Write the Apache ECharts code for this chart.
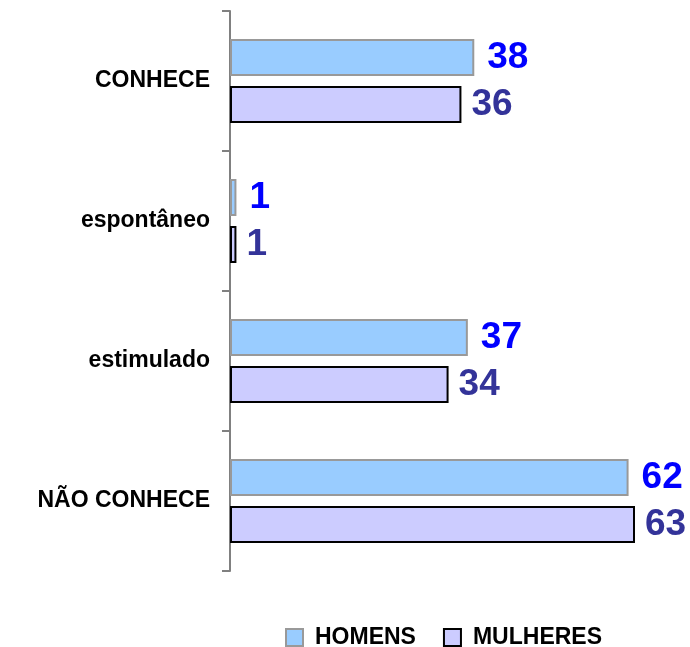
<!DOCTYPE html>
<html lang="pt">
<head>
    <meta charset="UTF-8">
    <title>Conhece</title>
    <script type="text/javascript" src="https://cdn.jsdelivr.net/npm/echarts@6/dist/echarts.min.js"></script>
    <style>
        html, body { margin: 0; padding: 0; background: #fff; }
    </style>
</head>
<body>
<div id="main" style="width:690px;height:647px"></div>
<script type="text/javascript">
    // dados
    var categorias = ['CONHECE', 'espontâneo', 'estimulado', 'NÃO CONHECE'];
    var homens = [38, 1, 37, 62];
    var mulheres = [36, 1, 34, 63];

    var fonte = '"Liberation Sans", Arial, sans-serif';
    var myChart = echarts.init(document.getElementById('main'));

    myChart.setOption({
        animation: false,
        legend: {
            left: 285,
            top: 626,
            padding: 0,
            icon: 'rect',
            itemWidth: 17,
            itemHeight: 17,
            itemGap: 27,
            textStyle: {
                fontFamily: fonte,
                fontWeight: 'bold',
                fontSize: 23,
                color: '#000',
                padding: [0, 0, 0, 7]
            },
            data: ['HOMENS', 'MULHERES']
        },
        grid: {
            left: 230,
            right: 10,
            top: 11,
            bottom: 76
        },
        xAxis: {
            type: 'value',
            min: 0,
            max: 70,
            show: false
        },
        yAxis: {
            type: 'category',
            inverse: true,
            data: categorias,
            axisLine: { show: true, lineStyle: { color: '#808080', width: 2 } },
            axisTick: { show: true, inside: false, length: 8, lineStyle: { color: '#808080', width: 2 } },
            axisLabel: {
                margin: 20,
                fontFamily: fonte,
                fontWeight: 'bold',
                fontSize: 23,
                color: '#000'
            }
        },
        series: [
            {
                name: 'HOMENS',
                type: 'bar',
                barWidth: 37,
                barGap: '27%',
                data: homens,
                itemStyle: { color: '#99CCFF', borderColor: '#999999', borderWidth: 2 },
                label: {
                    show: true,
                    position: 'right',
                    distance: 13,
                    fontFamily: fonte,
                    fontWeight: 'bold',
                    fontSize: 37,
                    color: '#0000FF'
                }
            },
            {
                name: 'MULHERES',
                type: 'bar',
                barWidth: 37,
                data: mulheres,
                itemStyle: { color: '#CCCCFF', borderColor: '#000000', borderWidth: 2 },
                label: {
                    show: true,
                    position: 'right',
                    distance: 10,
                    fontFamily: fonte,
                    fontWeight: 'bold',
                    fontSize: 37,
                    color: '#333399'
                }
            }
        ]
    });
</script>
</body>
</html>
